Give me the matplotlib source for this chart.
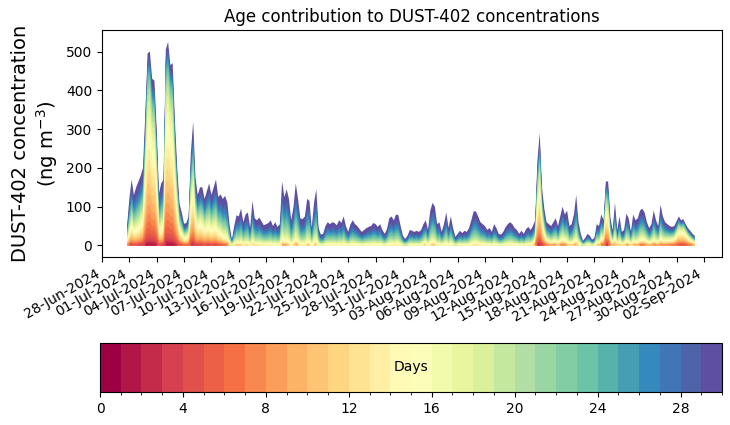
import numpy as np
import pandas as pd
import matplotlib
matplotlib.use("Agg")
import matplotlib.pyplot as plt
import matplotlib.dates as mdates
from matplotlib.colors import BoundaryNorm
from matplotlib.cm import ScalarMappable

# 6-hourly total DUST-402 concentration (ng m-3)
# first value is 30-Jun 18:00, then one row per day (00, 06, 12, 18 UTC)
total_conc = [
    50,
    120, 170, 130, 150,   # 01-Jul
    165, 180, 200, 340,
    495, 500, 430, 425,
    300, 135, 160, 170,
    505, 525, 465, 470,   # 05-Jul
    320, 200, 108, 85,
    56, 58, 75, 240,
    320, 175, 130, 150,
    150, 120, 140, 160,
    130, 150, 170, 125,   # 10-Jul
    132, 120, 128, 110,
    50, 15, 50, 78,
    75, 95, 60, 80,
    85, 45, 115, 70,
    65, 72, 62, 52,       # 15-Jul
    55, 58, 65, 50,
    60, 48, 55, 165,
    125, 145, 120, 65,
    100, 160, 120, 70,
    68, 75, 120, 115,     # 20-Jul
    45, 110, 145, 45,
    28, 30, 50, 60,
    55, 60, 58, 52,
    65, 58, 75, 50,
    35, 55, 65, 55,       # 25-Jul
    50, 42, 35, 40,
    45, 48, 50, 58,
    55, 48, 55, 40,
    30, 42, 70, 75,
    65, 80, 78, 50,       # 30-Jul
    25, 17, 25, 40,
    38, 35, 38, 35,
    40, 55, 65, 40,
    90, 110, 100, 55,
    60, 35, 55, 85,       # 04-Aug
    45, 75, 45, 22,
    30, 38, 32, 38,
    35, 45, 65, 88,
    88, 75, 60, 55,
    50, 40, 45, 35,       # 09-Aug
    55, 45, 30, 28,
    35, 47, 55, 60,
    55, 45, 40, 30,
    38, 30, 42, 48,
    40, 50, 65, 220,      # 14-Aug
    290, 150, 95, 60,
    55, 50, 60, 70,
    50, 75, 100, 80,
    90, 50, 55, 80,
    130, 60, 30, 12,      # 19-Aug
    20, 30, 25, 15,
    20, 55, 50, 80,
    65, 165, 165, 70,
    40, 110, 40, 75,
    35, 40, 82, 70,       # 24-Aug
    35, 80, 65, 70,
    90, 95, 85, 60,
    45, 55, 90, 65,
    50, 105, 75, 60,
    55, 50, 48, 50,       # 29-Aug
    62, 75, 65, 68,
    55, 45, 38, 30,
    25,
]

# share of "fresh" dust (young ages) in the column, same 6-hourly times
fresh_share = [
    0.3,
    0.35, 0.4, 0.35, 0.35,   # 01-Jul
    0.35, 0.4, 0.45, 0.7,
    0.85, 0.85, 0.8, 0.8,
    0.7, 0.35, 0.35, 0.4,
    0.85, 0.85, 0.85, 0.8,   # 05-Jul
    0.7, 0.6, 0.5, 0.45,
    0.45, 0.45, 0.45, 0.6,
    0.6, 0.5, 0.5, 0.5,
    0.45, 0.45, 0.45, 0.4,
    0.4, 0.4, 0.35, 0.35,    # 10-Jul
    0.3, 0.25, 0.2, 0.2,
    0.15, 0.12, 0.1, 0.1,
    0.08, 0.08, 0.06, 0.06,
    0.06, 0.06, 0.08, 0.06,
    0.05, 0.05, 0.05, 0.05,  # 15-Jul
    0.04, 0.04, 0.04, 0.04,
    0.04, 0.04, 0.04, 0.1,
    0.08, 0.08, 0.06, 0.04,
    0.06, 0.1, 0.08, 0.04,
    0.04, 0.04, 0.06, 0.06,  # 20-Jul
    0.04, 0.06, 0.08, 0.04,
    0.03, 0.03, 0.03, 0.03,
    0.03, 0.03, 0.03, 0.03,
    0.03, 0.03, 0.03, 0.03,
    0.03, 0.03, 0.03, 0.03,  # 25-Jul
    0.03, 0.03, 0.03, 0.03,
    0.03, 0.03, 0.03, 0.03,
    0.03, 0.03, 0.03, 0.03,
    0.03, 0.03, 0.03, 0.03,
    0.03, 0.03, 0.03, 0.03,  # 30-Jul
    0.03, 0.03, 0.03, 0.03,
    0.03, 0.03, 0.03, 0.03,
    0.05, 0.1, 0.15, 0.05,
    0.06, 0.08, 0.06, 0.04,
    0.04, 0.04, 0.04, 0.04,  # 04-Aug
    0.04, 0.04, 0.04, 0.04,
    0.04, 0.04, 0.04, 0.04,
    0.04, 0.04, 0.04, 0.04,
    0.04, 0.04, 0.04, 0.04,
    0.04, 0.04, 0.04, 0.04,  # 09-Aug
    0.04, 0.04, 0.04, 0.04,
    0.04, 0.04, 0.04, 0.04,
    0.04, 0.04, 0.04, 0.04,
    0.04, 0.04, 0.04, 0.06,
    0.08, 0.12, 0.3, 0.65,   # 14-Aug
    0.7, 0.55, 0.4, 0.3,
    0.25, 0.2, 0.2, 0.2,
    0.15, 0.2, 0.2, 0.2,
    0.12, 0.12, 0.12, 0.12,
    0.12, 0.1, 0.1, 0.1,     # 19-Aug
    0.1, 0.1, 0.1, 0.1,
    0.12, 0.15, 0.15, 0.3,
    0.35, 0.7, 0.6, 0.3,
    0.2, 0.2, 0.15, 0.15,
    0.15, 0.15, 0.15, 0.15,  # 24-Aug
    0.15, 0.15, 0.15, 0.15,
    0.2, 0.2, 0.2, 0.2,
    0.2, 0.2, 0.2, 0.2,
    0.2, 0.2, 0.2, 0.25,
    0.3, 0.35, 0.4, 0.45,    # 29-Aug
    0.55, 0.65, 0.7, 0.7,
    0.7, 0.6, 0.5, 0.45,
    0.4,
]

# relative weight of each age bin (0..29 days) for fresh and aged dust
fresh_profile = [0.3, 0.6, 1, 1.5, 2, 2.5, 3, 3.5, 4, 4.5, 5, 5, 5, 5, 5,
                 4.5, 4, 3.5, 3, 2.5, 2, 1.5, 1.2, 1, 0.8, 0.6, 0.5, 0.4, 0.3, 0.3]
aged_profile = [0, 0, 0, 0, 0, 0, 0, 0, 0.05, 0.1, 0.2, 0.4, 0.7, 1, 1.5,
                2, 2.5, 3, 3.5, 4, 4.5, 5, 5.5, 6, 6.5, 7, 7.5, 8, 8.5, 22]

n_days = 30
times = pd.date_range("2024-06-30 18:00", periods=len(total_conc), freq="6h")
tick_dates = pd.date_range("2024-06-28", "2024-09-02", freq="3D")

total = np.array(total_conc, dtype=float)
w = np.array(fresh_share)
fp = np.array(fresh_profile) / np.sum(fresh_profile)
ap = np.array(aged_profile) / np.sum(aged_profile)

# contribution of each age bin, shape (30, ntimes)
contrib = total[None, :] * (w[None, :] * fp[:, None] + (1 - w[None, :]) * ap[:, None])
cum = np.cumsum(contrib, axis=0)

cmap = plt.get_cmap("Spectral", n_days)
colors = [cmap(i) for i in range(n_days)]

fig = plt.figure(figsize=(7.3, 4.25), dpi=100)
ax = fig.add_axes([0.1397, 0.395, 0.849, 0.534])

# draw oldest (tallest) layer first, younger ones on top -> no seams
# (skip spots where a layer is thinner than about a pixel)
for i in range(n_days - 1, -1, -1):
    if i == n_days - 1:
        ax.fill_between(times, 0, cum[i], facecolor=colors[i], linewidth=0)
    else:
        ax.fill_between(times, 0, cum[i], where=cum[i] > 2.5, facecolor=colors[i],
                        linewidth=0)

ax.set_title("Age contribution to DUST-402 concentrations")
ax.set_ylabel("DUST-402 concentration\n(ng m$^{-3}$)", fontsize=14)
ax.set_ylim(-30, 555)
ax.set_xlim(pd.Timestamp("2024-06-28"), pd.Timestamp("2024-09-03 23:00"))
ax.set_xticks(tick_dates)
ax.xaxis.set_major_formatter(mdates.DateFormatter("%d-%b-%Y"))
for lab in ax.get_xticklabels():
    lab.set_rotation(30)
    lab.set_ha("right")

# discrete colour bar for the age bins
cax = fig.add_axes([0.137, 0.078, 0.852, 0.115])
norm = BoundaryNorm(np.arange(n_days + 1), n_days)
sm = ScalarMappable(norm=norm, cmap=cmap)
cb = fig.colorbar(sm, cax=cax, orientation="horizontal", ticks=range(0, n_days, 4))
cax.text(15, 0.5, "Days", ha="center", va="center", fontsize=10)

fig.savefig("out.png", dpi=100)
